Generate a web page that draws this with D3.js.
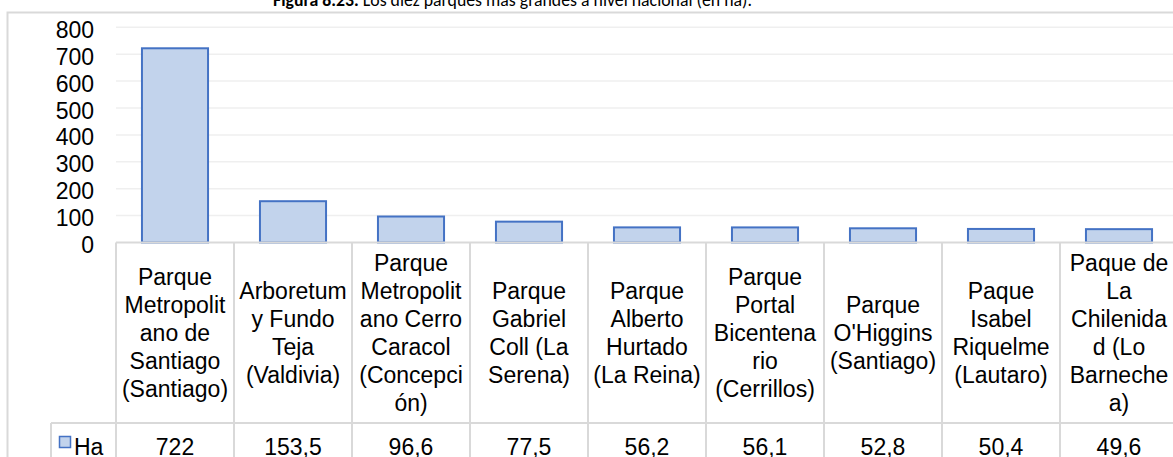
<!DOCTYPE html>
<html>
<head>
<meta charset="utf-8">
<script src="https://cdn.jsdelivr.net/npm/d3@7"></script>
<style>
  html, body { margin: 0; padding: 0; background: #fff; overflow: hidden; }
  svg { display: block; }
</style>
</head>
<body>
<svg id="chart" width="1173" height="457"></svg>
<script>
const categories = [
  "Parque\nMetropolit\nano de\nSantiago\n(Santiago)",
  "Arboretum\ny Fundo\nTeja\n(Valdivia)",
  "Parque\nMetropolit\nano Cerro\nCaracol\n(Concepci\nón)",
  "Parque\nGabriel\nColl (La\nSerena)",
  "Parque\nAlberto\nHurtado\n(La Reina)",
  "Parque\nPortal\nBicentena\nrio\n(Cerrillos)",
  "Parque\nO'Higgins\n(Santiago)",
  "Paque\nIsabel\nRiquelme\n(Lautaro)",
  "Paque de\nLa\nChilenida\nd (Lo\nBarneche\na)"
];
const values = [722, 153.5, 96.6, 77.5, 56.2, 56.1, 52.8, 50.4, 49.6];
const valueLabels = ["722", "153,5", "96,6", "77,5", "56,2", "56,1", "52,8", "50,4", "49,6"];
const yTicks = [0, 100, 200, 300, 400, 500, 600, 700, 800];
const seriesName = "Ha";
const titleBold = "Figura 8.23.";
const titleRest = " Los diez parques más grandes a nivel nacional (en ha).";

const svg = d3.select("#chart");
const font = "'Liberation Sans', Arial, Helvetica, sans-serif";
const gridColor = "#d9d9d9";

const x = d3.scaleBand().domain(categories).range([116, 1178]).paddingInner(0).paddingOuter(0);
const y = d3.scaleLinear().domain([0, 800]).range([242.5, 27.3]);
const bw = x.bandwidth();
const barW = bw * 0.56;

const headerTop = y(0), headerBottom = 423, rowBottom = 470;

// title
const t = svg.append("text")
  .attr("x", 273).attr("y", 6)
  .attr("font-family", "Carlito, Lato, 'Open Sans', sans-serif")
  .attr("font-size", 17.8).attr("fill", "#000");
t.append("tspan").attr("font-weight", "bold").text(titleBold);
t.append("tspan").text(titleRest);

// chart frame
svg.append("rect")
  .attr("x", 7.5).attr("y", 12.5).attr("width", 1200).attr("height", 500)
  .attr("fill", "none").attr("stroke", gridColor).attr("stroke-width", 2);

// gridlines
svg.append("g").selectAll("line").data(yTicks.filter(d => d > 0)).join("line")
  .attr("x1", 116).attr("x2", 1178)
  .attr("y1", d => y(d)).attr("y2", d => y(d))
  .attr("stroke", "#efefef").attr("stroke-width", 1.5);

// y axis labels
svg.append("g").selectAll("text").data(yTicks).join("text")
  .attr("x", 94).attr("y", d => y(d) + 10.5)
  .attr("text-anchor", "end")
  .attr("font-family", font).attr("font-size", 23).attr("fill", "#000")
  .text(d => d);

// bars
svg.append("g").selectAll("rect").data(values).join("rect")
  .attr("x", (d, i) => x(categories[i]) + (bw - barW) / 2)
  .attr("y", d => y(d))
  .attr("width", barW)
  .attr("height", d => y(0) - y(d))
  .attr("fill", "#c2d3ec").attr("stroke", "#4472c4").attr("stroke-width", 2);

// table lines
const tg = svg.append("g").attr("stroke", gridColor).attr("stroke-width", 2);
tg.append("line").attr("x1", 116).attr("x2", 1178).attr("y1", headerTop).attr("y2", headerTop);
tg.append("line").attr("x1", 51).attr("x2", 1178).attr("y1", headerBottom).attr("y2", headerBottom);
tg.append("line").attr("x1", 51).attr("x2", 51).attr("y1", headerBottom).attr("y2", rowBottom);
tg.selectAll(".v").data(categories).join("line").attr("class", "v")
  .attr("x1", d => x(d)).attr("x2", d => x(d))
  .attr("y1", headerTop).attr("y2", rowBottom);
tg.append("line").attr("x1", x(categories[categories.length-1]) + bw).attr("x2", x(categories[categories.length-1]) + bw)
  .attr("y1", headerTop).attr("y2", rowBottom);

// category labels
const lh = 28;
const midH = (headerTop + headerBottom) / 2;
svg.append("g").selectAll("text").data(categories).join("text")
  .attr("text-anchor", "middle")
  .attr("font-family", font).attr("font-size", 23).attr("fill", "#000")
  .each(function(d) {
    const lines = d.split("\n");
    const sel = d3.select(this);
    lines.forEach((ln, i) => {
      sel.append("tspan")
        .attr("x", x(d) + bw / 2)
        .attr("y", midH + (i - (lines.length - 1) / 2) * lh + 8.5)
        .text(ln);
    });
  });

// values row
svg.append("g").selectAll("text").data(valueLabels).join("text")
  .attr("x", (d, i) => x(categories[i]) + bw / 2)
  .attr("y", 455)
  .attr("text-anchor", "middle")
  .attr("font-family", font).attr("font-size", 23).attr("fill", "#000")
  .text(d => d);

// legend key
svg.append("rect").attr("x", 59.5).attr("y", 436.5).attr("width", 11).attr("height", 11)
  .attr("fill", "#c2d3ec").attr("stroke", "#4472c4").attr("stroke-width", 1.5);
svg.append("text").attr("x", 74).attr("y", 455)
  .attr("font-family", font).attr("font-size", 23).attr("fill", "#000")
  .text(seriesName);
</script>
</body>
</html>
